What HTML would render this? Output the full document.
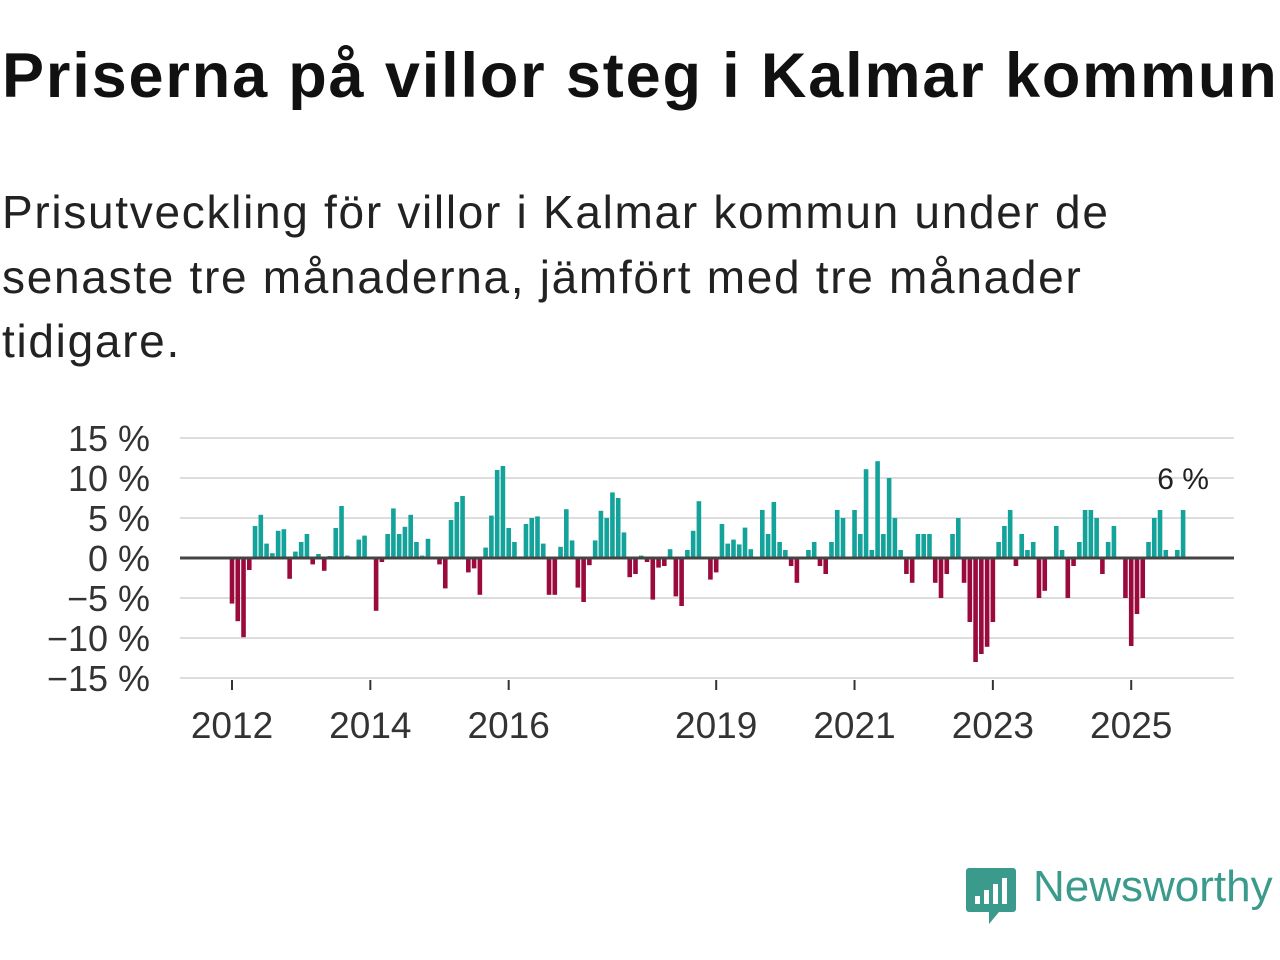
<!DOCTYPE html>
<html><head><meta charset="utf-8"><style>
body{margin:0;width:1280px;height:960px;background:#fff;font-family:"Liberation Sans",sans-serif;overflow:hidden;position:relative}
#title{position:absolute;left:2px;top:40px;font-size:63px;font-weight:bold;color:#111;white-space:nowrap;letter-spacing:1.85px}
#sub{position:absolute;left:2px;top:180px;font-size:46px;line-height:64.5px;color:#222;width:1260px;letter-spacing:1.7px;white-space:nowrap}
</style></head><body>
<div id="title">Priserna på villor steg i Kalmar kommun</div>
<div id="sub">Prisutveckling för villor i Kalmar kommun under de<br>senaste tre månaderna, jämfört med tre månader<br>tidigare.</div>
<svg id="chart" width="1280" height="960" style="position:absolute;left:0;top:0"></svg>
<div style="position:absolute;left:965px;top:866px;">
<svg width="52" height="60"><path d="M4 2h44a3 3 0 0 1 3 3v38a3 3 0 0 1-3 3H34l-10 12v-12H4a3 3 0 0 1-3-3V5a3 3 0 0 1 3-3z" fill="#3a9a8c"/><rect x="10" y="30" width="5" height="8" fill="#fff"/><rect x="19" y="24" width="5" height="14" fill="#fff"/><rect x="28" y="18" width="5" height="20" fill="#fff"/><rect x="37" y="12" width="5" height="26" fill="#fff"/></svg>
</div>
<div style="position:absolute;left:1033px;top:862px;font-size:44px;color:#3a9a8c;">Newsworthy</div>
<script>
const values=[-5.7,-7.9,-9.9,-1.5,4.0,5.4,1.8,0.6,3.4,3.6,-2.6,0.8,
2.0,3.0,-0.8,0.5,-1.6,0.25,3.75,6.5,0.3,0,2.3,2.8,
0,-6.6,-0.5,3.0,6.2,3.0,3.9,5.4,2.0,0.3,2.4,0,
-0.8,-3.8,4.75,7.0,7.75,-1.8,-1.3,-4.6,1.3,5.3,11.0,11.5,
3.75,2.0,0.2,4.25,5.0,5.2,1.8,-4.6,-4.6,1.4,6.1,2.2,
-3.7,-5.5,-0.9,2.2,5.9,5.0,8.2,7.5,3.2,-2.4,-2.0,0.3,
-0.5,-5.2,-1.2,-1.0,1.1,-4.8,-6.0,1.0,3.4,7.1,0,-2.7,
-1.8,4.25,1.8,2.3,1.7,3.8,1.1,0,6.0,3.0,7.0,2.0,
1.0,-1.0,-3.1,0,1.0,2.0,-1.0,-2.0,2.0,6.0,5.0,0,
6.0,3.0,11.1,1.0,12.1,3.0,10.0,5.0,1.0,-2.0,-3.1,3.0,
3.0,3.0,-3.1,-5.0,-2.0,3.0,5.0,-3.1,-8.0,-13.0,-12.0,-11.1,
-8.0,2.0,4.0,6.0,-1.0,3.0,1.0,2.0,-5.0,-4.1,0,4.0,
1.0,-5.0,-1.0,2.0,6.0,6.0,5.0,-2.0,2.0,4.0,0,-5.0,
-11.0,-7.0,-5.0,2.0,5.0,6.0,1.0,0,1.0,6.0];
const startYear=2012;
const yTicks=[15,10,5,0,-5,-10,-15];
const xTickYears=[2012,2014,2016,2019,2021,2023,2025];
const NS="http://www.w3.org/2000/svg";
const svg=document.getElementById('chart');
const x0=180,x1=1234;
function y(v){return 558-v*8;}
function xt(t){return 232+(t-startYear)*69.17;}
function mk(tag,attrs){const e=document.createElementNS(NS,tag);for(const k in attrs)e.setAttribute(k,attrs[k]);svg.appendChild(e);return e;}
yTicks.forEach(v=>{
 if(v!==0){const g=mk('line',{x1:x0,x2:x1,y1:y(v),y2:y(v),stroke:'#ddd','stroke-width':2});
 
 }
 const t=mk('text',{x:150,y:y(v)+13,'text-anchor':'end','font-size':36,fill:'#333','font-family':'Liberation Sans, sans-serif'});
 t.textContent=(v<0?'\u2212'+(-v):v)+' %';
 
 
});
values.forEach((v,i)=>{
 if(v===0)return;
 const cx=xt(startYear+i/12);
 const r=mk('rect',{x:cx-2.3,width:4.6,y:Math.min(y(v),y(0)),height:Math.abs(y(v)-y(0)),fill:v>0?'#14a39a':'#9b0a3d'});
 
 
});
const z=mk('line',{x1:x0,x2:x1,y1:y(0),y2:y(0),stroke:'#444','stroke-width':3});


xTickYears.forEach(yr=>{
 const tk=mk('line',{x1:xt(yr),x2:xt(yr),y1:680,y2:690,stroke:'#333','stroke-width':2});
 
 
 const t=mk('text',{x:xt(yr),y:738,'text-anchor':'middle','font-size':37,fill:'#333','font-family':'Liberation Sans, sans-serif'});
 t.textContent=yr;
 
 
});
const last=values[values.length-1];
const a=mk('text',{x:xt(startYear+(values.length-1)/12),y:489,'text-anchor':'middle','font-size':30,fill:'#222','font-family':'Liberation Sans, sans-serif'});
a.textContent=Math.round(last)+' %';


</script>
</body></html>
